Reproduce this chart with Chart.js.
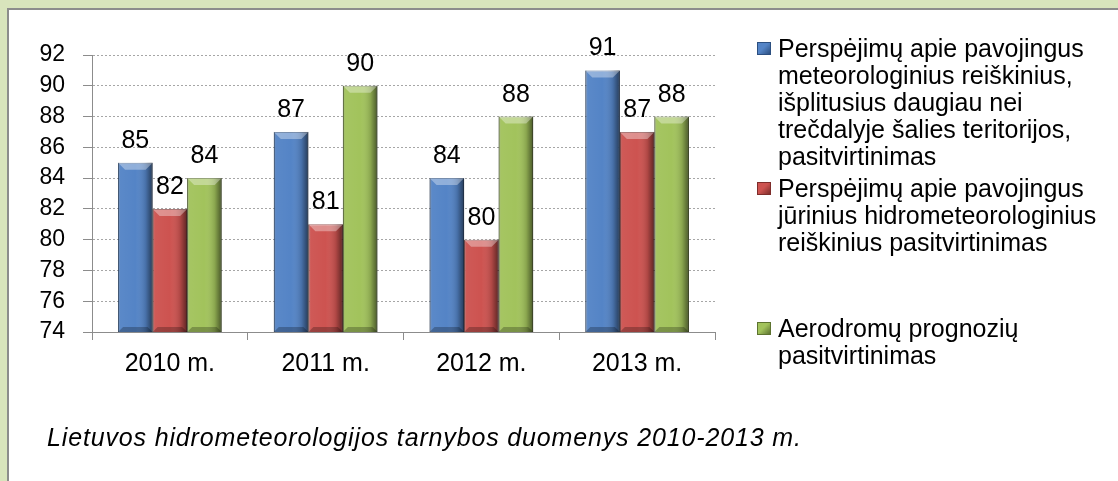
<!DOCTYPE html>
<html>
<head>
<meta charset="utf-8">
<script src="https://cdn.jsdelivr.net/npm/chart.js@4"></script>
<style>
html, body { margin: 0; padding: 0; }
body {
  width: 1118px; height: 481px; overflow: hidden; position: relative;
  background: #d8e4bc;
  font-family: "Liberation Sans", Arial, sans-serif; color: #000;
}
#panel {
  position: absolute; left: 7px; top: 8px; right: 0; bottom: 0;
  background: #fff;
  border-left: 2px solid #8c8c8c; border-top: 2px solid #8c8c8c;
}
#wrap { position: absolute; left: 0; top: 0; width: 1118px; height: 481px; }
#legend {
  position: absolute; left: 757px; top: 35px; width: 361px;
  font-size: 25px; line-height: 27px; white-space: nowrap;
}
.entry { position: relative; height: 140px; padding-left: 21px; }
.marker {
  position: absolute; left: 0; top: 7px; width: 14px; height: 13px;
  box-sizing: border-box;
}
#caption {
  position: absolute; left: 47px; top: 423px;
  font-size: 25px; font-style: italic; letter-spacing: 0.85px; white-space: nowrap;
}
</style>
</head>
<body>
<div id="panel"></div>
<div id="wrap"><canvas id="myChart"></canvas></div>
<div id="legend"></div>
<div id="caption"></div>
<script>
// data
const categories = ['2010 m.', '2011 m.', '2012 m.', '2013 m.'];
const meteoValues = [85, 87, 84, 91];
const marineValues = [82, 81, 80, 87];
const aerodromeValues = [84, 90, 88, 88];
const seriesNames = [
  'Perspėjimų apie pavojingus meteorologinius reiškinius, išplitusius daugiau nei trečdalyje šalies teritorijos, pasitvirtinimas',
  'Perspėjimų apie pavojingus jūrinius hidrometeorologinius reiškinius pasitvirtinimas',
  'Aerodromų prognozių pasitvirtinimas'
];
const legendLines = [
  ['Perspėjimų apie pavojingus', 'meteorologinius reiškinius,', 'išplitusius daugiau nei', 'trečdalyje šalies teritorijos,', 'pasitvirtinimas'],
  ['Perspėjimų apie pavojingus', 'jūrinius hidrometeorologinius', 'reiškinius pasitvirtinimas'],
  ['Aerodromų prognozių', 'pasitvirtinimas']
];
const seriesColors = ['#5484c6', '#cd5350', '#a2c35c'];
const seriesEdges = ['#2c4f80', '#7e2d2b', '#5d7330'];
const yMin = 74, yMax = 92, yStep = 2;
const captionText = 'Lietuvos hidrometeorologijos tarnybos duomenys 2010-2013 m.';

const FONT = '"Liberation Sans", Arial, sans-serif';

// 3d-ish bevel on each bar
const barShade = {
  id: 'barShade',
  afterDatasetsDraw(chart) {
    const ctx = chart.ctx;
    const area = chart.chartArea;
    chart.data.datasets.forEach((ds, i) => {
      chart.getDatasetMeta(i).data.forEach(bar => {
        const p = bar.getProps(['x', 'y', 'base', 'width'], true);
        const l = p.x - p.width / 2, r = p.x + p.width / 2;
        const t = p.y, b = Math.min(p.base, area.bottom);
        ctx.save();
        const g = ctx.createLinearGradient(l, 0, r, 0);
        g.addColorStop(0, 'rgba(0,0,0,0.4)');
        g.addColorStop(0.07, 'rgba(255,255,255,0.04)');
        g.addColorStop(0.5, 'rgba(255,255,255,0)');
        g.addColorStop(0.8, 'rgba(0,0,0,0.15)');
        g.addColorStop(1, 'rgba(0,0,0,0.55)');
        ctx.fillStyle = g;
        ctx.fillRect(l, t, r - l, b - t);
        const bv = 7;
        ctx.fillStyle = 'rgba(255,255,255,0.35)';
        ctx.beginPath();
        ctx.moveTo(l, t); ctx.lineTo(r, t); ctx.lineTo(r - bv, t + bv); ctx.lineTo(l + bv, t + bv);
        ctx.closePath(); ctx.fill();
        ctx.fillStyle = 'rgba(0,0,0,0.25)';
        ctx.beginPath();
        ctx.moveTo(l, b); ctx.lineTo(r, b); ctx.lineTo(r - 5, b - 5); ctx.lineTo(l + 5, b - 5);
        ctx.closePath(); ctx.fill();
        ctx.restore();
      });
    });
  }
};

// value labels above bars
const valueLabels = {
  id: 'valueLabels',
  afterDatasetsDraw(chart) {
    const ctx = chart.ctx;
    ctx.save();
    ctx.font = '25px ' + FONT;
    ctx.fillStyle = '#000';
    ctx.textAlign = 'center';
    ctx.textBaseline = 'alphabetic';
    chart.data.datasets.forEach((ds, i) => {
      chart.getDatasetMeta(i).data.forEach((bar, j) => {
        ctx.fillText(String(ds.data[j]), bar.x, bar.y - 15);
      });
    });
    ctx.restore();
  }
};

const values = [meteoValues, marineValues, aerodromeValues];
const ctx = document.getElementById('myChart');
const myChart1 = new Chart(ctx, {
  type: 'bar',
  data: {
    labels: categories,
    datasets: values.map((v, i) => ({
      label: seriesNames[i],
      data: v,
      backgroundColor: seriesColors[i],
      borderColor: seriesEdges[i],
      borderWidth: 1,
      categoryPercentage: 0.665,
      barPercentage: 1.0
    }))
  },
  options: {
    responsive: true,
    maintainAspectRatio: false,
    animation: false,
    layout: { padding: { left: 0, top: 55, right: 403, bottom: 89 } },
    scales: {
      y: {
        min: yMin, max: yMax,
        ticks: { stepSize: yStep, color: '#000', padding: 18, font: { family: FONT, size: 23 } },
        grid: { color: '#a6a6a6', tickLength: 9, tickColor: '#8c8c8c', tickBorderDash: [] },
        border: { color: '#8c8c8c', width: 1, dash: [2, 2] },
        afterFit: scale => { scale.width = 92; }
      },
      x: {
        offset: true,
        ticks: { color: '#000', padding: 9, font: { family: FONT, size: 25 } },
        grid: { offset: true, drawOnChartArea: false, tickLength: 8, color: '#8c8c8c' },
        border: { color: '#8c8c8c', width: 1 },
        afterFit: scale => { scale.height = 60; }
      }
    },
    plugins: {
      legend: { display: false },
      tooltip: { enabled: false },
      title: { display: false }
    }
  },
  plugins: [barShade, valueLabels]
});

// legend on the right, built from the series
const legendBox = document.getElementById('legend');
legendLines.forEach((lines, i) => {
  const entry = document.createElement('div');
  entry.className = 'entry';
  const m = document.createElement('span');
  m.className = 'marker';
  m.style.background = 'linear-gradient(135deg, ' + seriesColors[i] + ' 0%, ' + seriesColors[i] + ' 45%, ' + seriesEdges[i] + ' 100%)';
  m.style.border = '1px solid ' + seriesEdges[i];
  entry.appendChild(m);
  lines.forEach(t => {
    const d = document.createElement('div');
    d.textContent = t;
    entry.appendChild(d);
  });
  legendBox.appendChild(entry);
});
document.getElementById('caption').textContent = captionText;
</script>
</body>
</html>
